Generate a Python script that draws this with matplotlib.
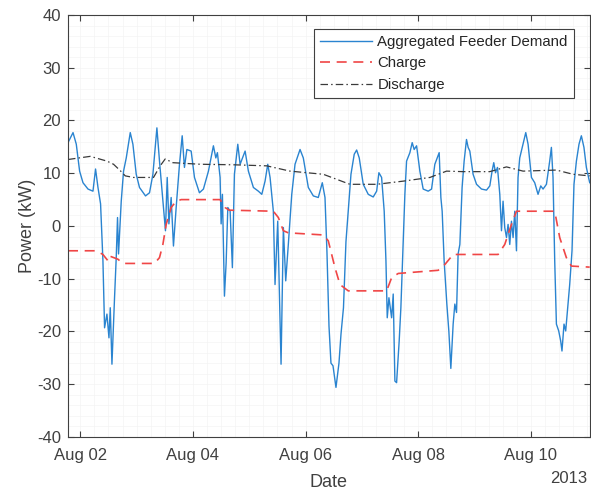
import datetime as dt
import numpy as np
import matplotlib
matplotlib.use("Agg")
import matplotlib.pyplot as plt
import matplotlib.dates as mdates
from matplotlib.ticker import MultipleLocator

plt.rcParams['font.family'] = ['Liberation Sans', 'DejaVu Sans']
plt.rcParams['axes.unicode_minus'] = False

# time is given as fractional day of August 2013
demand_day = [1.782, 1.871, 1.929, 1.988, 2.048, 2.137, 2.225, 2.271, 2.314, 2.360,
              2.402, 2.431, 2.473, 2.509, 2.532, 2.562, 2.608, 2.638, 2.661, 2.679,
              2.727, 2.768, 2.816, 2.887, 2.934, 2.993, 3.051, 3.158, 3.229, 3.289,
              3.360, 3.406, 3.466, 3.512, 3.543, 3.573, 3.613, 3.654, 3.702, 3.761,
              3.809, 3.849, 3.892, 3.968, 4.027, 4.115, 4.186, 4.275, 4.363, 4.406,
              4.434, 4.482, 4.500, 4.523, 4.559, 4.589, 4.619, 4.660, 4.700, 4.736,
              4.796, 4.837, 4.926, 4.984, 5.073, 5.161, 5.222, 5.280, 5.328, 5.369,
              5.427, 5.457, 5.505, 5.564, 5.605, 5.647, 5.693, 5.754, 5.812, 5.901,
              5.959, 6.048, 6.137, 6.225, 6.296, 6.344, 6.379, 6.415, 6.450, 6.486,
              6.539, 6.592, 6.628, 6.672, 6.716, 6.757, 6.805, 6.863, 6.906, 6.952,
              7.023, 7.112, 7.200, 7.261, 7.301, 7.349, 7.395, 7.426, 7.449, 7.479,
              7.527, 7.555, 7.585, 7.615, 7.661, 7.691, 7.732, 7.762, 7.792, 7.851,
              7.892, 7.927, 7.970, 8.028, 8.087, 8.176, 8.236, 8.294, 8.371, 8.401,
              8.424, 8.459, 8.507, 8.543, 8.578, 8.619, 8.649, 8.679, 8.707, 8.738,
              8.778, 8.814, 8.856, 8.885, 8.915, 8.973, 9.034, 9.122, 9.211, 9.270,
              9.310, 9.340, 9.371, 9.406, 9.447, 9.477, 9.505, 9.535, 9.566, 9.594,
              9.624, 9.654, 9.683, 9.713, 9.743, 9.771, 9.801, 9.860, 9.908, 9.949,
              10.009, 10.067, 10.126, 10.174, 10.215, 10.275, 10.333, 10.363, 10.392, 10.422,
              10.452, 10.493, 10.528, 10.551, 10.587, 10.617, 10.658, 10.688, 10.729, 10.764,
              10.807, 10.853, 10.895, 10.941, 10.984, 11.043]
demand_kw = [15.8, 17.7, 15.5, 10.4, 8.2, 7.0, 6.6, 10.8, 7.3, 4.2,
             -6.6, -19.3, -16.7, -21.2, -15.5, -26.2, -13.6, -6.0, 1.6, -5.3,
             4.7, 10.4, 12.9, 17.7, 15.5, 9.8, 7.3, 5.7, 6.3, 9.8,
             18.6, 12.3, 4.7, -0.9, 9.2, 0.4, 5.4, -3.8, 3.5, 11.7,
             17.1, 11.1, 14.5, 14.2, 9.2, 6.3, 7.0, 10.4, 15.2, 12.9,
             13.9, 9.2, 0.4, 6.0, -13.3, -7.0, 3.5, 2.8, -7.9, 9.8,
             15.5, 11.7, 14.2, 10.4, 7.3, 6.6, 6.0, 8.5, 11.7, 9.2,
             2.8, -11.1, 0.9, -26.2, -0.3, -10.4, -3.5, 6.0, 11.7, 14.5,
             12.9, 7.3, 5.7, 5.4, 8.2, 5.4, -5.0, -19.0, -26.0, -26.5,
             -30.6, -26.0, -20.5, -15.5, -3.0, 2.8, 9.8, 13.6, 14.4, 12.9,
             7.9, 6.0, 5.5, 6.6, 10.1, 9.2, 2.8, -6.6, -17.4, -13.6,
             -17.4, -12.9, -29.4, -29.7, -21.8, -15.5, -2.8, 6.0, 12.3, 13.9,
             15.8, 14.5, 15.2, 10.4, 7.0, 6.6, 7.0, 11.7, 13.9, 5.4,
             2.8, -6.6, -14.8, -20.0, -27.0, -18.6, -14.8, -16.4, -5.3, -3.5,
             7.3, 12.3, 16.4, 14.9, 14.2, 9.8, 7.9, 7.0, 6.8, 7.6,
             10.4, 12.0, 10.1, 11.1, 6.0, -0.9, 4.7, -0.3, -2.2, 0.3,
             -3.5, 0.9, -2.2, 2.8, -4.7, 9.2, 12.9, 15.5, 17.7, 15.5,
             9.2, 8.2, 6.0, 7.6, 7.0, 7.9, 12.3, 14.9, 9.2, -6.6,
             -18.6, -19.9, -21.8, -23.7, -18.6, -19.9, -14.8, -11.1, -4.7, 7.9,
             12.3, 15.5, 17.1, 14.9, 11.1, 8.2]

charge_day = [1.782, 2.284, 2.402, 2.491, 2.520, 2.668, 2.757, 3.317, 3.406, 3.466,
              3.525, 3.613, 3.702, 3.791, 4.482, 4.571, 4.642, 5.427, 5.516, 5.605,
              5.693, 6.314, 6.402, 6.521, 6.610, 6.757, 7.438, 7.527, 7.644, 8.353,
              8.472, 8.619, 9.417, 9.535, 9.654, 9.743, 10.422, 10.511, 10.629, 10.718,
              11.043]
charge_kw = [-4.7, -4.7, -5.4, -6.6, -5.7, -6.3, -7.1, -7.1, -6.0, -3.5,
             0.3, 3.5, 4.7, 5.0, 5.0, 3.5, 3.0, 2.8, 1.6, -0.9,
             -1.3, -1.7, -2.8, -7.9, -11.1, -12.3, -12.3, -9.8, -9.0, -8.4,
             -7.3, -5.4, -5.4, -3.5, 0.3, 2.8, 2.8, -2.2, -6.0, -7.6,
             -7.8]

discharge_day = [1.782, 2.177, 2.473, 2.590, 2.709, 2.798, 2.945, 3.300, 3.418, 3.507,
                 3.644, 4.128, 4.718, 5.310, 5.723, 6.314, 6.787, 7.261, 7.732, 8.206,
                 8.502, 8.796, 9.270, 9.566, 9.860, 10.452, 10.748, 11.043]
discharge_kw = [12.6, 13.2, 12.3, 11.7, 10.5, 9.5, 9.2, 9.2, 11.4, 12.7,
                12.0, 11.7, 11.6, 11.4, 10.4, 9.8, 7.9, 7.9, 8.5, 9.2,
                10.4, 10.3, 10.3, 11.2, 10.4, 10.6, 9.8, 9.5]


def to_dates(days):
    base = dt.datetime(2013, 8, 1)
    return [base + dt.timedelta(days=d - 1) for d in days]


fig = plt.figure(figsize=(5.91, 4.91), dpi=100)
ax = fig.add_axes([0.115, 0.110, 0.883, 0.8595])

ax.plot(to_dates(demand_day), demand_kw, color='#2a84d0', lw=1.0,
        label='Aggregated Feeder Demand')
ax.plot(to_dates(charge_day), charge_kw, color='#f04646', lw=1.2,
        ls=(0, (6, 4)), label='Charge')
ax.plot(to_dates(discharge_day), discharge_kw, color='#3a3a3a', lw=0.9,
        ls=(0, (6, 2.5, 1.2, 2.5)), label='Discharge')

ax.set_xlim(dt.datetime(2013, 8, 1, 18, 45), dt.datetime(2013, 8, 11, 1, 5))
ax.set_ylim(-40, 40)
ax.yaxis.set_major_locator(MultipleLocator(10))
ax.yaxis.set_minor_locator(MultipleLocator(2))
ax.xaxis.set_major_locator(mdates.DayLocator(bymonthday=[2, 4, 6, 8, 10]))
ax.xaxis.set_minor_locator(mdates.HourLocator(byhour=[0, 6, 12, 18]))
ax.xaxis.set_major_formatter(mdates.DateFormatter('%b %d'))

ax.grid(which='both', color='#f4f4f4', lw=0.5)
ax.set_axisbelow(True)
ax.tick_params(which='major', direction='in', length=4, width=0.8,
               top=True, right=True, labelsize=12, colors='#404040')
ax.tick_params(axis='y', which='major', pad=5)
ax.tick_params(axis='x', which='major', pad=8)
ax.tick_params(which='minor', length=0)
for sp in ax.spines.values():
    sp.set_color('#404040')
    sp.set_linewidth(0.8)

ax.set_xlabel('Date', fontsize=13, color='#404040', labelpad=8)
ax.set_ylabel('Power (kW)', fontsize=13, color='#404040', labelpad=1)
ax.text(0.996, -0.08, '2013', transform=ax.transAxes, ha='right', va='top',
        fontsize=12, color='#404040')

leg = ax.legend(loc='upper right', bbox_to_anchor=(0.969, 0.967), fontsize=10.8,
                handlelength=3.5, handletextpad=0.35, borderpad=0.4,
                labelspacing=0.5, borderaxespad=0, fancybox=False, framealpha=1)
leg.get_frame().set_edgecolor('#404040')
leg.get_frame().set_linewidth(0.8)
for t in leg.get_texts():
    t.set_color('#262626')

fig.savefig('out.png', dpi=100)
